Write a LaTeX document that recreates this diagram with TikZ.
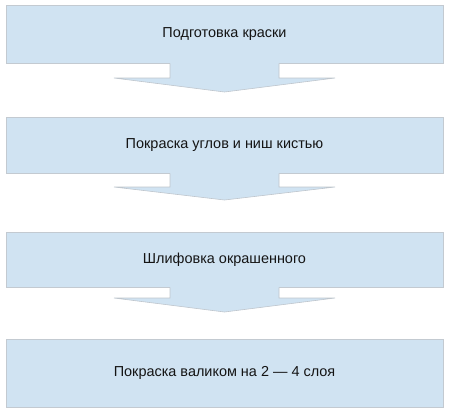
\documentclass[tikz,border=0pt]{standalone}
\usepackage{fontspec}
\setmainfont{Liberation Sans}
\usetikzlibrary{calc}
\definecolor{boxfill}{HTML}{D0E3F2}
\definecolor{boxline}{HTML}{C3CAD1}
\definecolor{arrline}{HTML}{BFC6CD}
\definecolor{txt}{HTML}{141414}
\tikzset{
  stepbox/.style={draw=boxline, line width=0.8bp, fill=boxfill, minimum width=437bp,
    inner sep=0pt, outer sep=0pt, text=txt, font=\fontsize{14.5}{17}\selectfont},
  arrfill/.style={fill=boxfill},
  arredge/.style={draw=arrline, line width=0.6bp}
}
\begin{document}
\begin{tikzpicture}[x=1bp,y=-1bp]
\useasboundingbox (0,0) rectangle (450,415);
\node[stepbox, minimum height=58bp] (b1) at (224.5,34) {Подготовка краски};
\node[stepbox, minimum height=56bp] (b2) at (224.5,145) {Покраска углов и ниш кистью};
\node[stepbox, minimum height=55bp] (b3) at (224.5,259.5) {Шлифовка окрашенного};
\node[stepbox, minimum height=68bp] (b4) at (224.5,373) {Покраска валиком на 2 — 4 слоя};
% arrows
\foreach \n/\base/\tip in {b1/15/29, b2/14/27, b3/11/25}{
  \coordinate (s) at (\n.south);
  \fill[arrfill] ($(s)+(-54.5,-0.4)$) -- ($(s)+(-54.5,\base)$) -- ($(s)+(-110.5,\base)$)
     -- ($(s)+(0,\tip)$) -- ($(s)+(110.5,\base)$) -- ($(s)+(54.5,\base)$) -- ($(s)+(54.5,-0.4)$) -- cycle;
  \draw[arredge] ($(s)+(-54.5,0.4)$) -- ($(s)+(-54.5,\base)$) -- ($(s)+(-110.5,\base)$)
     -- ($(s)+(0,\tip)$) -- ($(s)+(110.5,\base)$) -- ($(s)+(54.5,\base)$) -- ($(s)+(54.5,0.4)$);
}
\end{tikzpicture}
\end{document}
